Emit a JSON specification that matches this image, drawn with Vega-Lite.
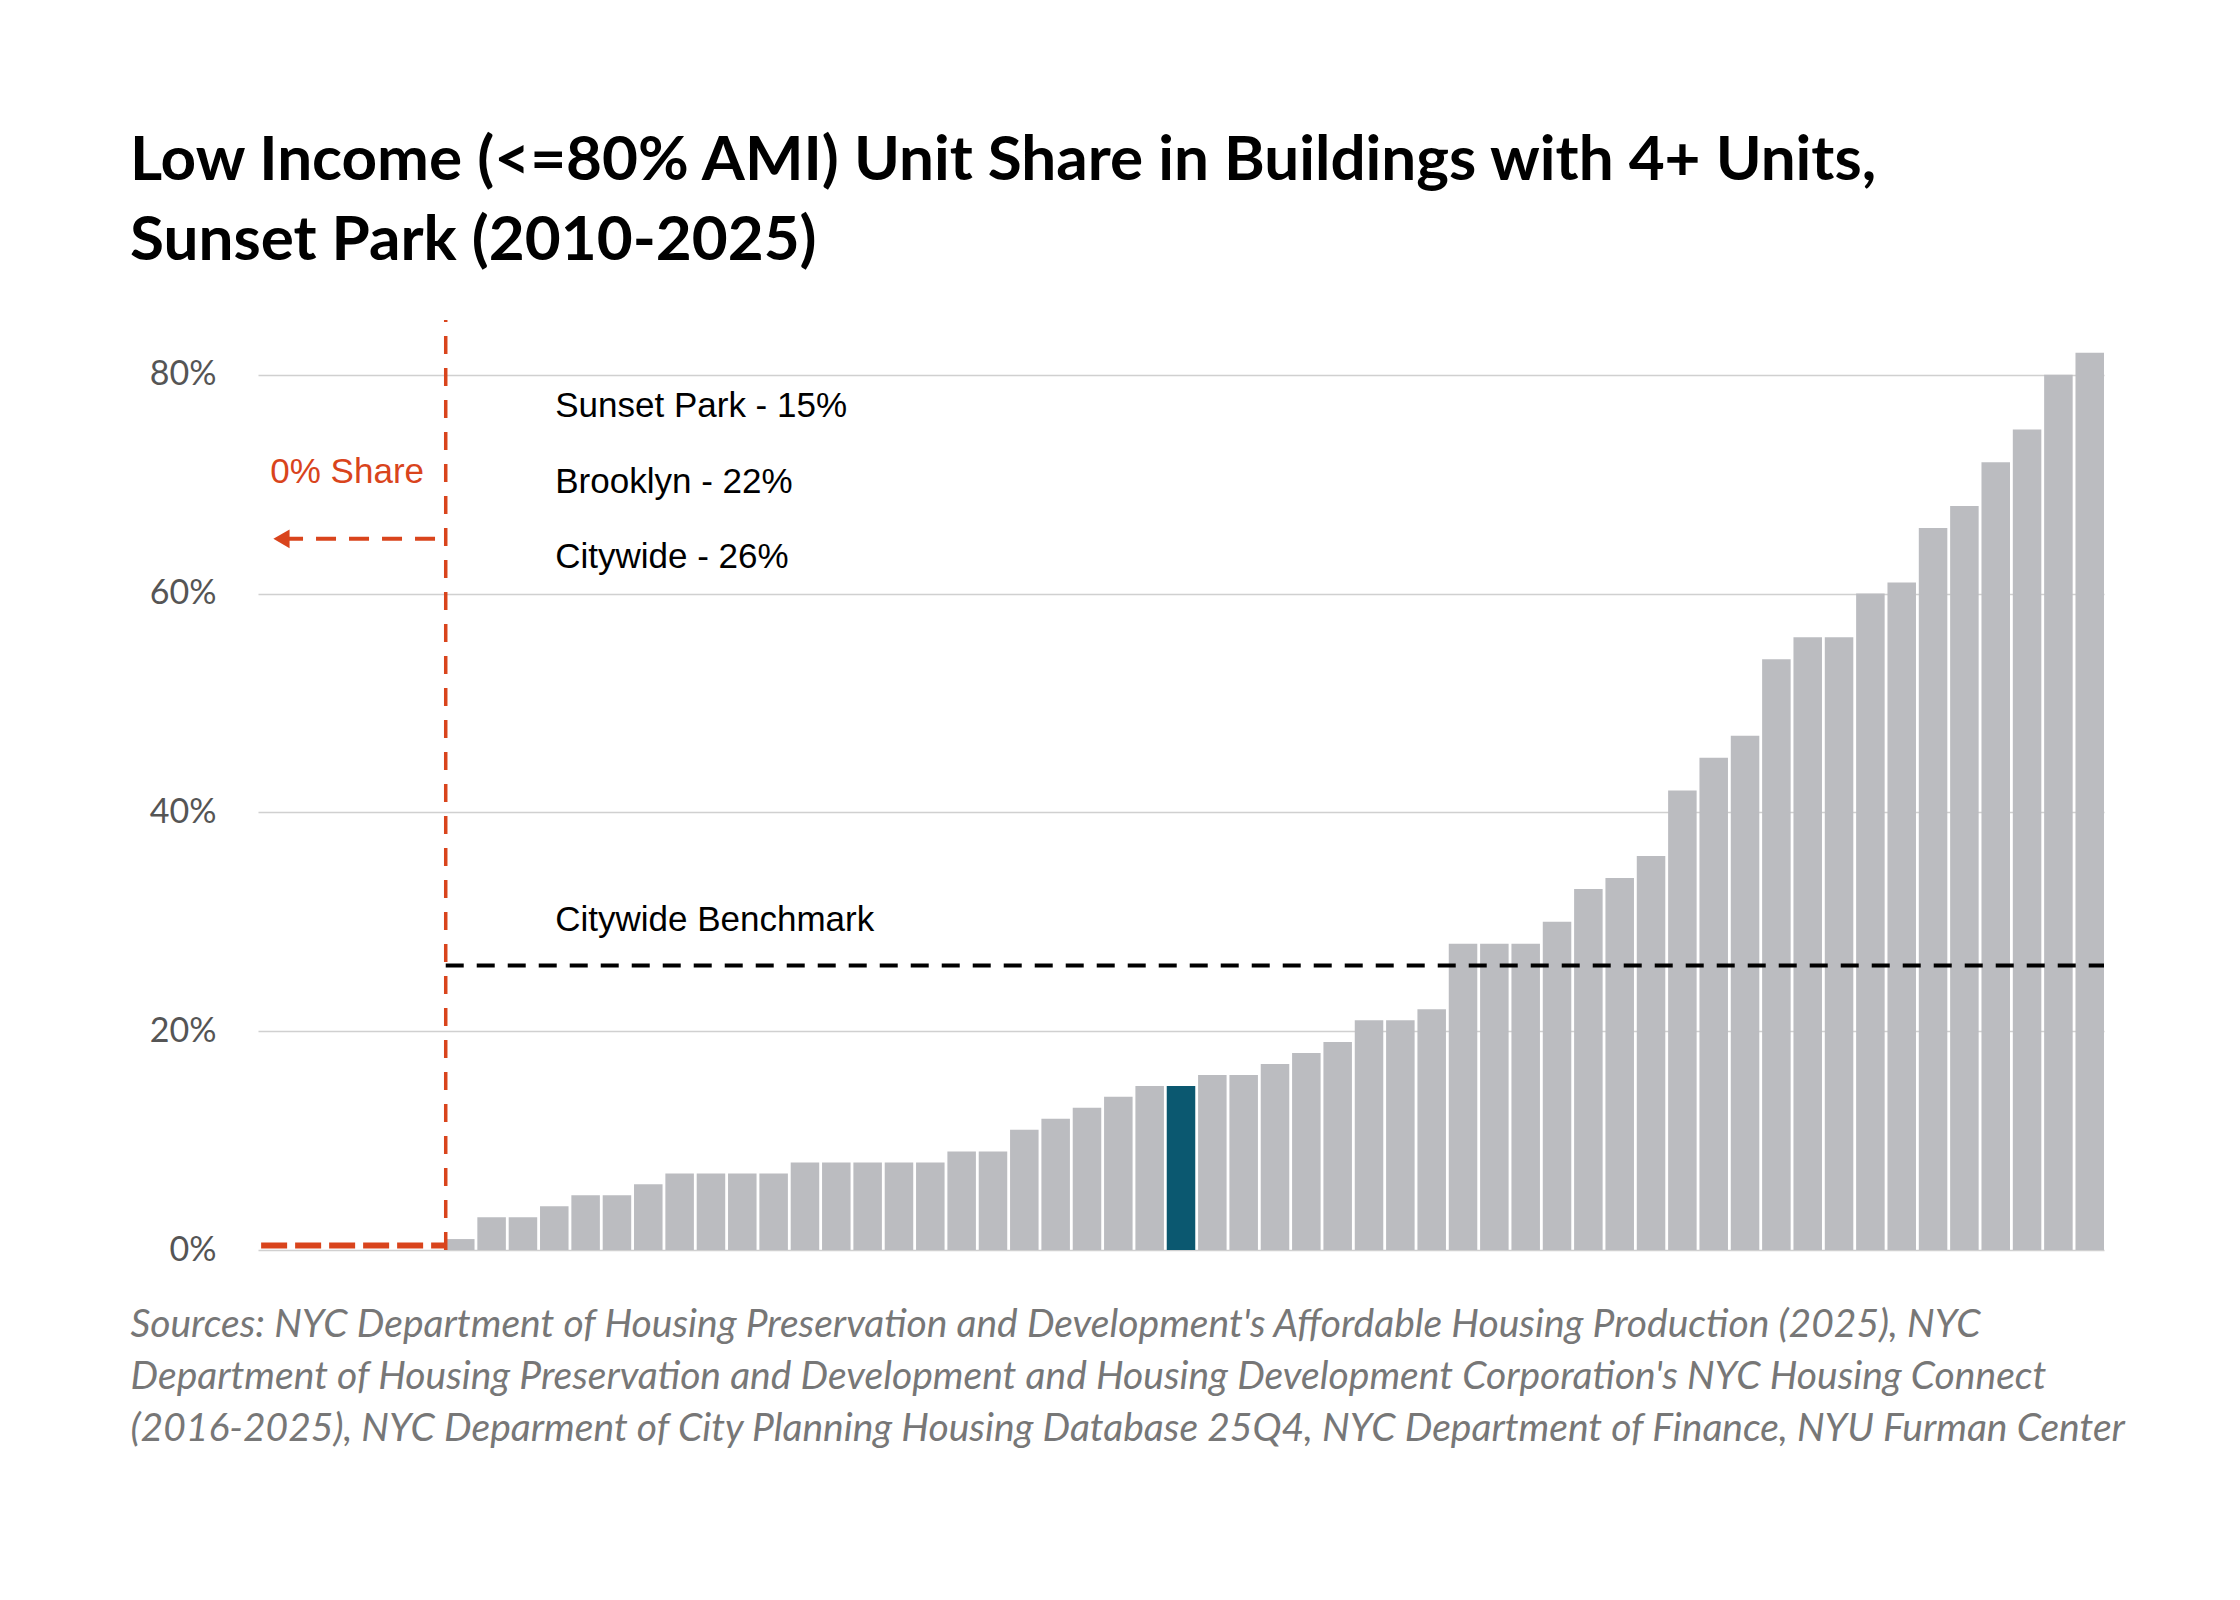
{
  "$schema": "https://vega.github.io/schema/vega-lite/v6.json",
  "width": 1846,
  "height": 930,
  "padding": {"left": 130, "top": 130, "right": 110, "bottom": 60},
  "background": "white",
  "title": {
    "text": ["Low Income (<=80% AMI) Unit Share in Buildings with 4+ Units,", "Sunset Park (2010-2025)"],
    "anchor": "start",
    "frame": "bounds",
    "font": "Lato",
    "fontSize": 62,
    "fontWeight": "bold",
    "color": "black",
    "lineHeight": 80,
    "offset": 45
  },
  "datasets": {
    "bars": [
      {"slot": 1, "value": 0, "hl": "no"}, {"slot": 2, "value": 0, "hl": "no"}, {"slot": 3, "value": 0, "hl": "no"},
      {"slot": 4, "value": 0, "hl": "no"}, {"slot": 5, "value": 0, "hl": "no"}, {"slot": 6, "value": 0, "hl": "no"},
      {"slot": 7, "value": 1, "hl": "no"}, {"slot": 8, "value": 3, "hl": "no"}, {"slot": 9, "value": 3, "hl": "no"},
      {"slot": 10, "value": 4, "hl": "no"}, {"slot": 11, "value": 5, "hl": "no"}, {"slot": 12, "value": 5, "hl": "no"},
      {"slot": 13, "value": 6, "hl": "no"}, {"slot": 14, "value": 7, "hl": "no"}, {"slot": 15, "value": 7, "hl": "no"},
      {"slot": 16, "value": 7, "hl": "no"}, {"slot": 17, "value": 7, "hl": "no"}, {"slot": 18, "value": 8, "hl": "no"},
      {"slot": 19, "value": 8, "hl": "no"}, {"slot": 20, "value": 8, "hl": "no"}, {"slot": 21, "value": 8, "hl": "no"},
      {"slot": 22, "value": 8, "hl": "no"}, {"slot": 23, "value": 9, "hl": "no"}, {"slot": 24, "value": 9, "hl": "no"},
      {"slot": 25, "value": 11, "hl": "no"}, {"slot": 26, "value": 12, "hl": "no"}, {"slot": 27, "value": 13, "hl": "no"},
      {"slot": 28, "value": 14, "hl": "no"}, {"slot": 29, "value": 15, "hl": "no"}, {"slot": 30, "value": 15, "hl": "yes"},
      {"slot": 31, "value": 16, "hl": "no"}, {"slot": 32, "value": 16, "hl": "no"}, {"slot": 33, "value": 17, "hl": "no"},
      {"slot": 34, "value": 18, "hl": "no"}, {"slot": 35, "value": 19, "hl": "no"}, {"slot": 36, "value": 21, "hl": "no"},
      {"slot": 37, "value": 21, "hl": "no"}, {"slot": 38, "value": 22, "hl": "no"}, {"slot": 39, "value": 28, "hl": "no"},
      {"slot": 40, "value": 28, "hl": "no"}, {"slot": 41, "value": 28, "hl": "no"}, {"slot": 42, "value": 30, "hl": "no"},
      {"slot": 43, "value": 33, "hl": "no"}, {"slot": 44, "value": 34, "hl": "no"}, {"slot": 45, "value": 36, "hl": "no"},
      {"slot": 46, "value": 42, "hl": "no"}, {"slot": 47, "value": 45, "hl": "no"}, {"slot": 48, "value": 47, "hl": "no"},
      {"slot": 49, "value": 54, "hl": "no"}, {"slot": 50, "value": 56, "hl": "no"}, {"slot": 51, "value": 56, "hl": "no"},
      {"slot": 52, "value": 60, "hl": "no"}, {"slot": 53, "value": 61, "hl": "no"}, {"slot": 54, "value": 66, "hl": "no"},
      {"slot": 55, "value": 68, "hl": "no"}, {"slot": 56, "value": 72, "hl": "no"}, {"slot": 57, "value": 75, "hl": "no"},
      {"slot": 58, "value": 80, "hl": "no"}, {"slot": 59, "value": 82, "hl": "no"}
    ]
  },
  "resolve": {"scale": {"x": "independent", "color": "independent"}},
  "layer": [
    {
      "data": {"name": "bars"},
      "mark": {"type": "bar"},
      "encoding": {
        "x": {
          "field": "slot", "type": "ordinal",
          "scale": {"paddingInner": 0.09, "paddingOuter": 0},
          "axis": {
            "labels": false, "ticks": false, "domain": false,
            "title": ["Sources: NYC Department of Housing Preservation and Development's Affordable Housing Production (2025), NYC", "Department of Housing Preservation and Development and Housing Development Corporation's NYC Housing Connect", " (2016-2025), NYC Deparment of City Planning Housing Database 25Q4, NYC Department of Finance, NYU Furman Center"],
            "titleAnchor": "start", "titleAlign": "left", "titleX": -128, "titlePadding": 55,
            "titleFont": "Lato", "titleFontStyle": "italic", "titleFontWeight": "normal",
            "titleFontSize": 39, "titleColor": "#777777", "titleLineHeight": 52
          }
        },
        "y": {
          "field": "value", "type": "quantitative",
          "scale": {"domain": [0, 85], "nice": false},
          "axis": {
            "values": [0, 20, 40, 60, 80], "labelExpr": "datum.value + '%'",
            "title": null, "domain": false, "ticks": false, "grid": true,
            "gridColor": "#d0d0d0", "gridWidth": 1.5,
            "labelFont": "Lato", "labelFontSize": 34, "labelColor": "#555555", "labelPadding": 42
          }
        },
        "color": {
          "field": "hl", "type": "nominal",
          "scale": {"domain": ["no", "yes"], "range": ["#bbbcc0", "#0b5870"]},
          "legend": null
        }
      }
    },
    {
      "data": {"values": [{"x": 6, "x2": 59, "y": 26}]},
      "mark": {"type": "rule", "color": "black", "strokeWidth": 4, "strokeDash": [18, 13]},
      "encoding": {
        "x": {"field": "x", "type": "quantitative", "scale": {"domain": [0, 59], "nice": false, "zero": false}, "axis": null},
        "x2": {"field": "x2"},
        "y": {"field": "y", "type": "quantitative"}
      }
    },
    {
      "data": {"values": [{"x": 6, "y": 0, "y2": 85}]},
      "mark": {"type": "rule", "color": "#d9441c", "strokeWidth": 3.5, "strokeDash": [18, 14]},
      "encoding": {
        "x": {"field": "x", "type": "quantitative", "scale": {"domain": [0, 59], "nice": false, "zero": false}, "axis": null},
        "y": {"field": "y", "type": "quantitative"},
        "y2": {"field": "y2"}
      }
    },
    {
      "data": {"values": [{"x": 0.1, "x2": 6, "y": 0.4}]},
      "mark": {"type": "rule", "color": "#d9441c", "strokeWidth": 6, "strokeDash": [26, 8]},
      "encoding": {
        "x": {"field": "x", "type": "quantitative", "scale": {"domain": [0, 59], "nice": false, "zero": false}, "axis": null},
        "x2": {"field": "x2"},
        "y": {"field": "y", "type": "quantitative"}
      }
    },
    {
      "data": {"values": [{"x": 0.8, "x2": 5.7, "y": 65}]},
      "mark": {"type": "rule", "color": "#d9441c", "strokeWidth": 4, "strokeDash": [20, 13]},
      "encoding": {
        "x": {"field": "x", "type": "quantitative", "scale": {"domain": [0, 59], "nice": false, "zero": false}, "axis": null},
        "x2": {"field": "x2"},
        "y": {"field": "y", "type": "quantitative"}
      }
    },
    {
      "data": {"values": [{"x": 0.75, "y": 65}]},
      "mark": {"type": "point", "shape": "triangle-left", "filled": true, "color": "#d9441c", "size": 350, "opacity": 1},
      "encoding": {
        "x": {"field": "x", "type": "quantitative", "scale": {"domain": [0, 59], "nice": false, "zero": false}, "axis": null},
        "y": {"field": "y", "type": "quantitative"}
      }
    },
    {
      "data": {"values": [{"x": 2.85, "y": 71.1, "label": "0% Share"}]},
      "mark": {"type": "text", "font": "Liberation Sans", "fontSize": 35, "baseline": "middle", "align": "center", "color": "#d9441c"},
      "encoding": {
        "x": {"field": "x", "type": "quantitative", "scale": {"domain": [0, 59], "nice": false, "zero": false}, "axis": null},
        "y": {"field": "y", "type": "quantitative"},
        "text": {"field": "label"}
      }
    },
    {
      "data": {"values": [
        {"x": 9.5, "y": 77.1, "label": "Sunset Park - 15%"},
        {"x": 9.5, "y": 70.2, "label": "Brooklyn - 22%"},
        {"x": 9.5, "y": 63.3, "label": "Citywide - 26%"},
        {"x": 9.5, "y": 30.2, "label": "Citywide Benchmark"}
      ]},
      "mark": {"type": "text", "font": "Liberation Sans", "fontSize": 35, "baseline": "middle", "align": "left", "color": "black"},
      "encoding": {
        "x": {"field": "x", "type": "quantitative", "scale": {"domain": [0, 59], "nice": false, "zero": false}, "axis": null},
        "y": {"field": "y", "type": "quantitative"},
        "text": {"field": "label"}
      }
    }
  ],
  "config": {"view": {"stroke": null}}
}
